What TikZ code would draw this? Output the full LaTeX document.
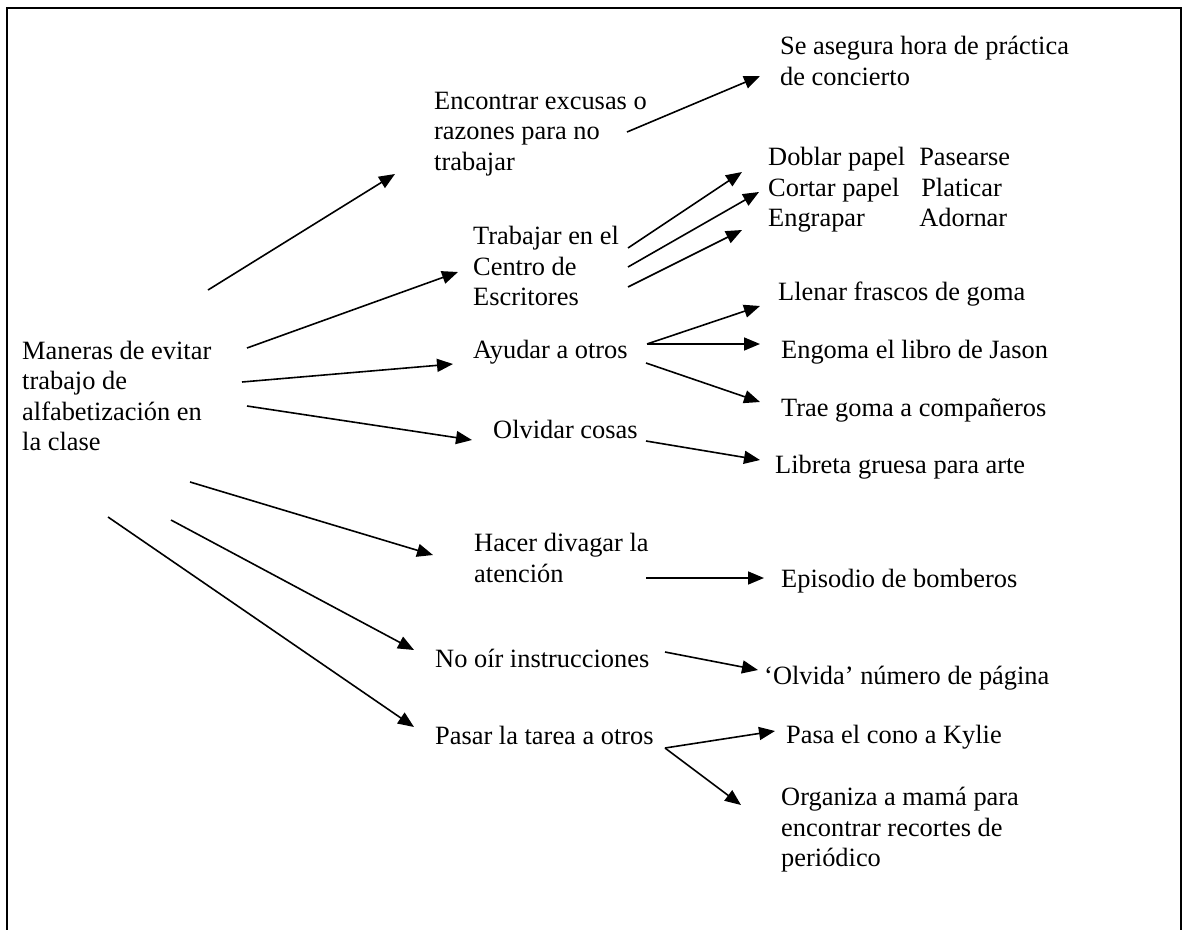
\documentclass[tikz,border=0pt]{standalone}
\usepackage{fontspec}
\setmainfont{Liberation Serif}
\usetikzlibrary{arrows.meta}
\begin{document}
\begin{tikzpicture}[x=1pt, y=-1pt]
    \tikzstyle{txt} = [ anchor=west, inner sep=0pt, align=left, font=\fontsize{26.4}{30.5}\selectfont ];
    \tikzstyle{arr} = [ -{Triangle[length=16pt, width=13pt]}, line width=1.6pt ];
    \useasboundingbox (0,0) rectangle (1183,929);
    \draw [line width=2.5pt] (7,945) -- (7,8) -- (1181,8) -- (1181,945);

    \node (nManeras) [txt] at (22,396) {Maneras de evitar\\trabajo de\\alfabetización en\\la clase};
    \node (nEncontrar) [txt] at (434,134) {Encontrar excusas o\\razones para no\\trabajar};
    \node (nAsegura) [txt] at (780,61) {Se asegura hora de práctica\\de concierto};
    \node (nTrabajar) [txt] at (473,266) {Trabajar en el\\Centro de\\Escritores};
    \node (nDoblar) [txt] at (768,190) {\begin{tabular}{@{}l@{\hspace{14pt}}l@{}}Doblar papel & Pasearse\\Cortar papel & \hspace{2pt}Platicar\\Engrapar & Adornar\end{tabular}};
    \node (nAyudar) [txt] at (473,352) {Ayudar a otros};
    \node (nLlenar) [txt] at (778,294) {Llenar frascos de goma};
    \node (nEngoma) [txt] at (781,352) {Engoma el libro de Jason};
    \node (nTrae) [txt] at (781,410) {Trae goma a compañeros};
    \node (nOlvidar) [txt] at (493,429) {Olvidar cosas};
    \node (nLibreta) [txt] at (775,467) {Libreta gruesa para arte};
    \node (nHacer) [txt] at (474,558) {Hacer divagar la\\atención};
    \node (nEpisodio) [txt] at (781,581) {Episodio de bomberos};
    \node (nNoOir) [txt] at (435,658) {No oír instrucciones};
    \node (nOlvida) [txt] at (764,678) {‘Olvida’ número de página};
    \node (nPasar) [txt] at (435,735) {Pasar la tarea a otros};
    \node (nCono) [txt] at (786,737) {Pasa el cono a Kylie};
    \node (nOrganiza) [txt] at (781,830) {Organiza a mamá para\\encontrar recortes de\\periódico};

    \draw [arr] ([shift={(186,-106)}]nManeras.west) -- ([shift={(-39,40)}]nEncontrar.west);
    \draw [arr] ([shift={(225,-48)}]nManeras.west) -- ([shift={(-15,6)}]nTrabajar.west);
    \draw [arr] ([shift={(220,-14)}]nManeras.west) -- ([shift={(-20,12)}]nAyudar.west);
    \draw [arr] ([shift={(225,10)}]nManeras.west) -- ([shift={(-21,11)}]nOlvidar.west);
    \draw [arr] ([shift={(168,86)}]nManeras.west) -- ([shift={(-41,-3)}]nHacer.west);
    \draw [arr] ([shift={(149,124)}]nManeras.west) -- ([shift={(-21,-8)}]nNoOir.west);
    \draw [arr] ([shift={(86,121)}]nManeras.west) -- ([shift={(-21,-8)}]nPasar.west);

    \draw [arr] ([shift={(193,-2)}]nEncontrar.west) -- ([shift={(-20,15)}]nAsegura.west);
    \draw [arr] ([shift={(155,-18)}]nTrabajar.west) -- ([shift={(-26,-18)}]nDoblar.west);
    \draw [arr] ([shift={(155,1)}]nTrabajar.west) -- ([shift={(-9,2)}]nDoblar.west);
    \draw [arr] ([shift={(155,21)}]nTrabajar.west) -- ([shift={(-26,40)}]nDoblar.west);
    \draw [arr] ([shift={(174,-8)}]nAyudar.west) -- ([shift={(-18,12)}]nLlenar.west);
    \draw [arr] ([shift={(174,-8)}]nAyudar.west) -- ([shift={(-21,-8)}]nEngoma.west);
    \draw [arr] ([shift={(173,11)}]nAyudar.west) -- ([shift={(-21,-8)}]nTrae.west);
    \draw [arr] ([shift={(153,12)}]nOlvidar.west) -- ([shift={(-15,-7)}]nLibreta.west);
    \draw [arr] ([shift={(172,20)}]nHacer.west) -- ([shift={(-17,-3)}]nEpisodio.west);
    \draw [arr] ([shift={(230,-6)}]nNoOir.west) -- ([shift={(-6,-8)}]nOlvida.west);
    \draw [arr] ([shift={(230,13)}]nPasar.west) -- ([shift={(-11,-6)}]nCono.west);
    \draw [arr] ([shift={(230,13)}]nPasar.west) -- ([shift={(-40,-25)}]nOrganiza.west);
\end{tikzpicture}
\end{document}
